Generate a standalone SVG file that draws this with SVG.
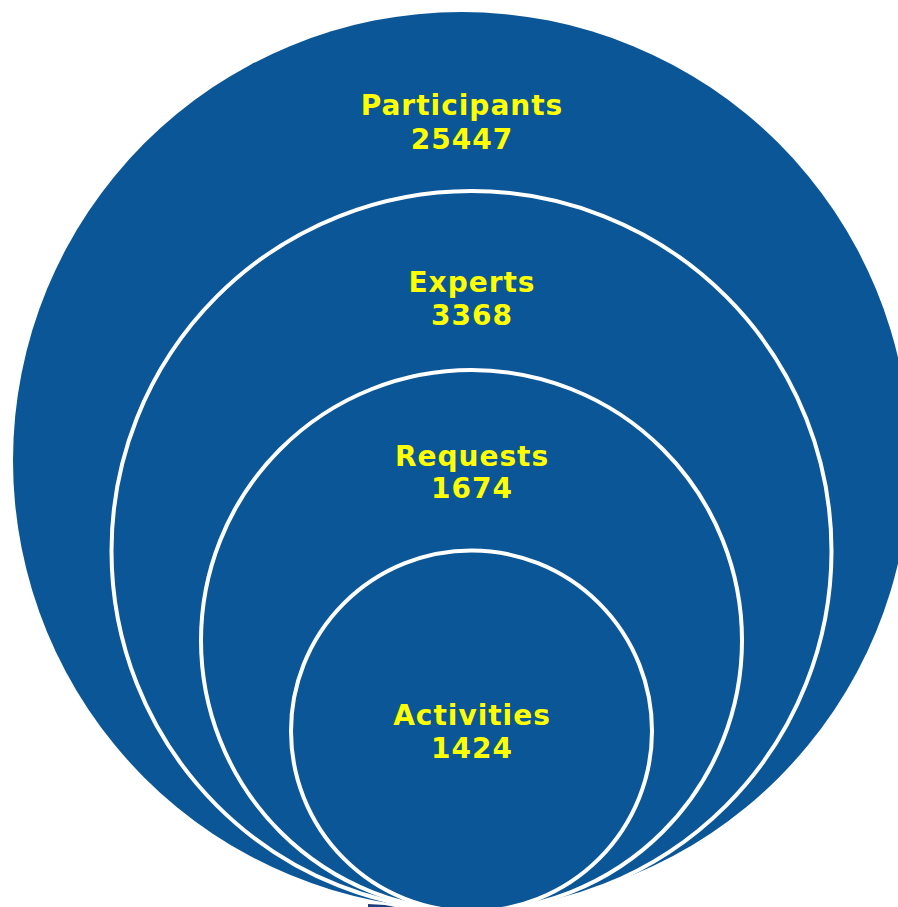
<svg xmlns="http://www.w3.org/2000/svg" width="898" height="907" viewBox="0 0 898 907">
<style>
.lbl{font-family:"DejaVu Sans","Verdana",sans-serif;font-weight:bold;font-size:28px;letter-spacing:1px;fill:#FFFF00;text-anchor:middle}
.ring{fill:#0B5696;stroke:#FFFFFF;stroke-width:4}
</style>
<rect width="898" height="907" fill="#FFFFFF"/>
<g id="participants">
<circle cx="461.5" cy="460.5" r="448.5" fill="#0B5696"/>
<text class="lbl" x="462" y="115">Participants</text>
<text class="lbl" x="462" y="149">25447</text>
</g>
<g id="experts">
<circle class="ring" cx="471.5" cy="551" r="360"/>
<text class="lbl" x="472" y="292">Experts</text>
<text class="lbl" x="472" y="325">3368</text>
</g>
<g id="requests">
<circle class="ring" cx="471.5" cy="640.5" r="270.5"/>
<text class="lbl" x="472" y="466">Requests</text>
<text class="lbl" x="472" y="498">1674</text>
</g>
<g id="activities">
<circle class="ring" cx="471.5" cy="731" r="180.5"/>
<text class="lbl" x="472" y="725">Activities</text>
<text class="lbl" x="472" y="758">1424</text>
</g>
<path d="M368,904 L385,905 L395,907 L368,907 Z" fill="#1C3F7E"/>
</svg>
